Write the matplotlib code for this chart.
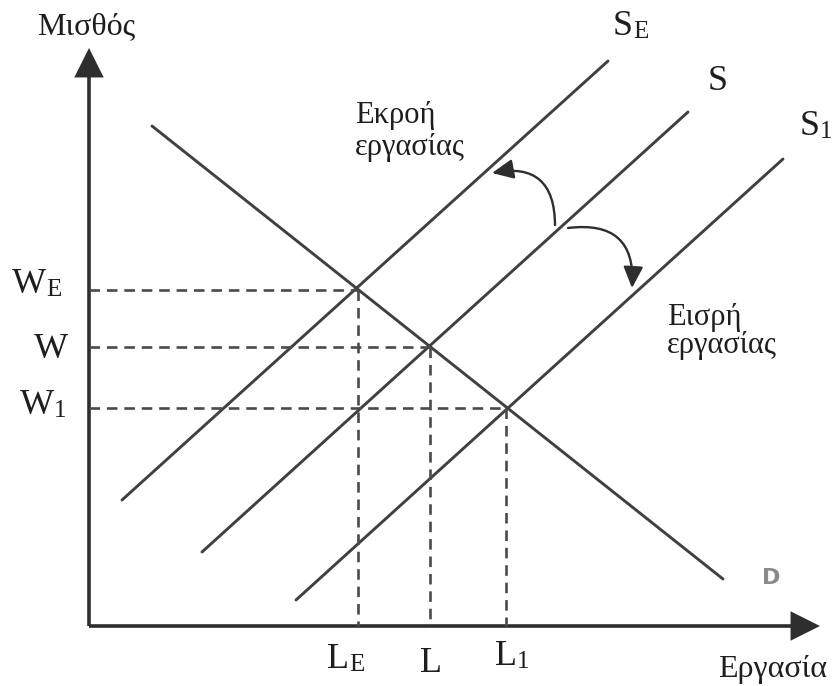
import matplotlib
matplotlib.use("Agg")
import matplotlib.pyplot as plt
from matplotlib.patches import FancyArrowPatch

# curves: two end points each (labour, wage)
d_curve = [(6.3, 50.0), (63.4, 4.7)]
se_curve = [(3.3, 12.6), (51.9, 56.5)]
s_curve = [(11.3, 7.4), (59.9, 51.4)]
s1_curve = [(20.7, 2.6), (69.4, 46.7)]

# equilibria: wage levels and labour levels
wages = [33.6, 27.9, 21.8]
labour = [26.9, 34.1, 41.7]

# shift arrows (start, end)
outflow_arrow = [(46.6, 40.1), (40.3, 45.3)]
inflow_arrow = [(47.9, 39.8), (54.3, 33.8)]

x_max = 73.1
y_max = 57.8

fig = plt.figure(figsize=(8.32, 6.86), dpi=100)
ax = fig.add_axes([0, 0, 1, 1])
ax.set_xlim(-8.9, 74.3)
ax.set_ylim(-6.0, 62.6)
ax.axis('off')

serif = 'Liberation Serif'
ink = '#1e1e1e'
line_col = '#404040'

# axes with arrows
for tip in [(0, y_max), (x_max, 0)]:
    ax.add_patch(FancyArrowPatch((0, 0), tip,
                 arrowstyle='-|>,head_length=17,head_width=8.5',
                 mutation_scale=1, lw=2.6, color='#2e2e2e',
                 shrinkA=0, shrinkB=0, joinstyle='miter', capstyle='butt'))

# demand and supply lines
for c in [d_curve, se_curve, s_curve, s1_curve]:
    ax.plot([c[0][0], c[1][0]], [c[0][1], c[1][1]], color=line_col, lw=2.1,
            solid_capstyle='round')

# dashed guides
for w, l in zip(wages, labour):
    h, = ax.plot([0, l], [w, w], color='#4a4a4a', lw=1.9)
    h.set_dashes((4, 2.6))
    v, = ax.plot([l, l], [w, 0], color='#4a4a4a', lw=1.9)
    v.set_dashes((4, 2.6))

# curved arrows
ax.add_patch(FancyArrowPatch(outflow_arrow[0], outflow_arrow[1],
             connectionstyle='arc3,rad=0.6',
             arrowstyle='-|>,head_length=13,head_width=6',
             mutation_scale=1, lw=1.7, color='#2e2e2e', shrinkA=0, shrinkB=0))
ax.add_patch(FancyArrowPatch(inflow_arrow[0], inflow_arrow[1],
             connectionstyle='arc3,rad=-0.6',
             arrowstyle='-|>,head_length=13,head_width=6',
             mutation_scale=1, lw=1.7, color='#2e2e2e', shrinkA=0, shrinkB=0))


def sublabel(x, y, main, sub, size=26, subsize=18):
    t = ax.text(x, y, main, family=serif, fontsize=size, color=ink,
                ha='left', va='baseline')
    ax.annotate(sub, xy=(1, 0), xycoords=t, family=serif, fontsize=subsize,
                color=ink, ha='left', va='bottom')


# axis titles
ax.text(-5.2, 59.2, 'Μισθός', family=serif, fontsize=23, color=ink, va='baseline')
ax.text(73.8, -5.1, 'Εργασία', family=serif, fontsize=23, color=ink,
        ha='right', va='baseline')

# wage labels
sublabel(-7.7, 33.3, 'W', 'E')
ax.text(-2.1, 26.8, 'W', family=serif, fontsize=26, color=ink, ha='right', va='baseline')
sublabel(-6.9, 21.2, 'W', '1')

# labour labels
sublabel(23.8, -4.2, 'L', 'E')
ax.text(34.2, -4.6, 'L', family=serif, fontsize=26, color=ink, ha='center', va='baseline')
sublabel(40.6, -3.9, 'L', '1')

# curve labels
sublabel(52.4, 59.1, 'S', 'E')
ax.text(61.9, 53.6, 'S', family=serif, fontsize=26, color=ink, va='baseline')
sublabel(71.1, 49.1, 'S', '1')
ax.text(67.3, 4.8, 'D', family='DejaVu Sans', fontweight='bold', fontsize=16,
        color='#8a8a8a', va='center')

# shift notes
ax.text(26.6, 50.3, 'Εκροή', family=serif, fontsize=22, color=ink, va='baseline')
ax.text(26.6, 47.1, 'εργασίας', family=serif, fontsize=22, color=ink, va='baseline')
ax.text(57.8, 30.1, 'Εισρή', family=serif, fontsize=22, color=ink, va='baseline')
ax.text(57.8, 27.3, 'εργασίας', family=serif, fontsize=22, color=ink, va='baseline')

fig.savefig('out.png', dpi=100, facecolor='white')
